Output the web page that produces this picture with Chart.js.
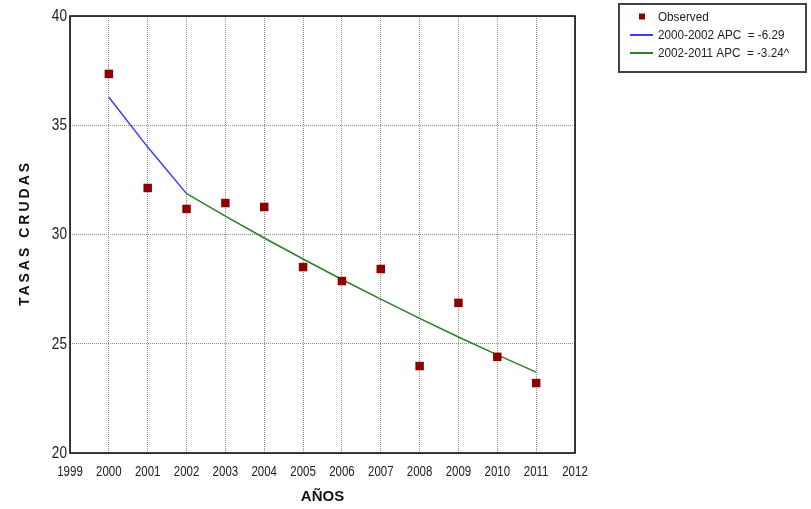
<!DOCTYPE html>
<html>
<head>
<meta charset="utf-8">
<script src="https://cdn.jsdelivr.net/npm/chart.js@4/dist/chart.umd.min.js"></script>
<style>
  html, body { margin: 0; padding: 0; background: #fff; }
  #wrap { width: 811px; height: 509px; position: relative; }
</style>
</head>
<body>
<div id="wrap"><canvas id="c" width="811" height="509"></canvas></div>
<script>
// ---- data ----
const years = [2000, 2001, 2002, 2003, 2004, 2005, 2006, 2007, 2008, 2009, 2010, 2011];
const observed = [37.35, 32.13, 31.17, 31.44, 31.26, 28.51, 27.87, 28.42, 23.98, 26.87, 24.40, 23.20];
const seg1Years = [2000, 2001, 2002];
const seg1Values = [36.28, 34.00, 31.87];
const seg2Years = [2002, 2003, 2004, 2005, 2006, 2007, 2008, 2009, 2010, 2011];
const seg2Values = [31.87, 30.84, 29.84, 28.88, 27.94, 27.04, 26.16, 25.31, 24.49, 23.70];
const xTickValues = [1999, 2000, 2001, 2002, 2003, 2004, 2005, 2006, 2007, 2008, 2009, 2010, 2011, 2012];
const yTickValues = [20, 25, 30, 35, 40];
const labels = ['Observed', '2000-2002 APC  = -6.29', '2002-2011 APC  = -3.24^'];
const xTitle = 'AÑOS';
const yTitle = 'TASAS CRUDAS';

const SANS = "'Liberation Sans', Arial, sans-serif";
const RED = '#8B0000', BLUE = 'rgb(60,60,255)', GREEN = 'rgb(40,128,40)';
const GRID = '#8c8c8c';

const pts = (xs, ys) => xs.map((x, i) => ({ x: x, y: ys[i] }));

// draw text condensed horizontally
function condensedText(ctx, text, x, y, sx, align) {
  ctx.save();
  ctx.translate(x, y);
  ctx.scale(sx, 1);
  ctx.textAlign = align;
  ctx.fillText(text, 0, 0);
  ctx.restore();
}

const framePlugin = {
  id: 'frame',
  afterDatasetsDraw(chart) {
    const { ctx, chartArea: a } = chart;
    ctx.save();
    ctx.strokeStyle = '#000';
    ctx.lineWidth = 1.5;
    ctx.strokeRect(a.left, a.top, a.right - a.left, a.bottom - a.top);
    ctx.restore();
  }
};

const tickLabelPlugin = {
  id: 'ticklabels',
  afterDraw(chart) {
    const ctx = chart.ctx;
    const a = chart.chartArea;
    const xs = chart.scales.x, ys = chart.scales.y;
    ctx.save();
    ctx.fillStyle = '#222';
    ctx.textBaseline = 'middle';
    ctx.font = '14px ' + SANS;
    xs.ticks.forEach(t => {
      condensedText(ctx, String(t.value), xs.getPixelForValue(t.value), a.bottom + 19, 0.82, 'center');
    });
    ctx.font = '16px ' + SANS;
    ys.ticks.forEach(t => {
      condensedText(ctx, String(t.value), a.left - 3, ys.getPixelForValue(t.value) + 0.5, 0.85, 'right');
    });
    ctx.restore();
  }
};

const yTitlePlugin = {
  id: 'ytitle',
  afterDraw(chart) {
    const ctx = chart.ctx;
    const a = chart.chartArea;
    ctx.save();
    ctx.translate(25, (a.top + a.bottom) / 2);
    ctx.rotate(-Math.PI / 2);
    ctx.font = 'bold 14px ' + SANS;
    if ('letterSpacing' in ctx) ctx.letterSpacing = '3px';
    ctx.fillStyle = '#111';
    ctx.textAlign = 'center';
    ctx.textBaseline = 'middle';
    ctx.fillText(yTitle, 1.5, 0);
    ctx.restore();
  }
};

const legendPlugin = {
  id: 'boxlegend',
  afterDraw(chart) {
    const ctx = chart.ctx;
    const ds = chart.data.datasets;
    const bx = 619, by = 4, bw = 187, bh = 68;
    ctx.save();
    ctx.fillStyle = '#fff';
    ctx.fillRect(bx, by, bw, bh);
    ctx.strokeStyle = '#444';
    ctx.lineWidth = 2;
    ctx.strokeRect(bx, by, bw, bh);
    const rows = [17, 35, 53];
    ctx.textBaseline = 'middle';
    ctx.font = '13px ' + SANS;
    ds.forEach((d, i) => {
      const y = rows[i];
      if (i === 0) {
        ctx.fillStyle = RED;
        ctx.fillRect(639, y - 3.5, 6, 6);
      } else {
        ctx.strokeStyle = d.borderColor;
        ctx.lineWidth = 2;
        ctx.beginPath();
        ctx.moveTo(630, y);
        ctx.lineTo(653, y);
        ctx.stroke();
      }
      ctx.fillStyle = '#222';
      condensedText(ctx, d.label, 658, y + 0.5, 0.9, 'left');
    });
    ctx.restore();
  }
};

new Chart(document.getElementById('c'), {
  type: 'scatter',
  data: {
    datasets: [
      {
        label: labels[0],
        data: pts(years, observed),
        pointStyle: 'rect',
        pointRadius: 6,
        pointBackgroundColor: RED,
        pointBorderColor: RED,
        pointBorderWidth: 0,
        showLine: false,
        order: 0
      },
      {
        label: labels[1],
        data: pts(seg1Years, seg1Values),
        showLine: true,
        borderColor: BLUE,
        borderWidth: 1.5,
        pointRadius: 0,
        tension: 0,
        order: 1
      },
      {
        label: labels[2],
        data: pts(seg2Years, seg2Values),
        showLine: true,
        borderColor: GREEN,
        borderWidth: 1.5,
        pointRadius: 0,
        tension: 0,
        order: 1
      }
    ]
  },
  options: {
    responsive: false,
    animation: false,
    devicePixelRatio: 1,
    layout: { padding: { left: 0, top: 16, right: 236, bottom: 0 } },
    plugins: {
      legend: { display: false },
      tooltip: { enabled: false }
    },
    scales: {
      x: {
        type: 'linear',
        min: 1999,
        max: 2012,
        afterBuildTicks: axis => { axis.ticks = xTickValues.map(v => ({ value: v })); },
        afterFit: s => { s.height = 56; },
        ticks: { display: false },
        grid: {
          drawTicks: false,
          color: GRID,
          lineWidth: 1
        },
        border: { display: false, dash: [1, 1] },
        title: {
          display: true,
          text: xTitle,
          color: '#111',
          font: { family: SANS, size: 15, weight: 'bold' },
          padding: { top: 0, bottom: 3 }
        }
      },
      y: {
        type: 'linear',
        min: 20,
        max: 40,
        afterBuildTicks: axis => { axis.ticks = yTickValues.map(v => ({ value: v })); },
        afterFit: s => { s.width = 70; },
        ticks: { display: false },
        grid: {
          drawTicks: false,
          color: GRID,
          lineWidth: 1
        },
        border: { display: false, dash: [1, 1] }
      }
    }
  },
  plugins: [framePlugin, tickLabelPlugin, yTitlePlugin, legendPlugin]
});
</script>
</body>
</html>
